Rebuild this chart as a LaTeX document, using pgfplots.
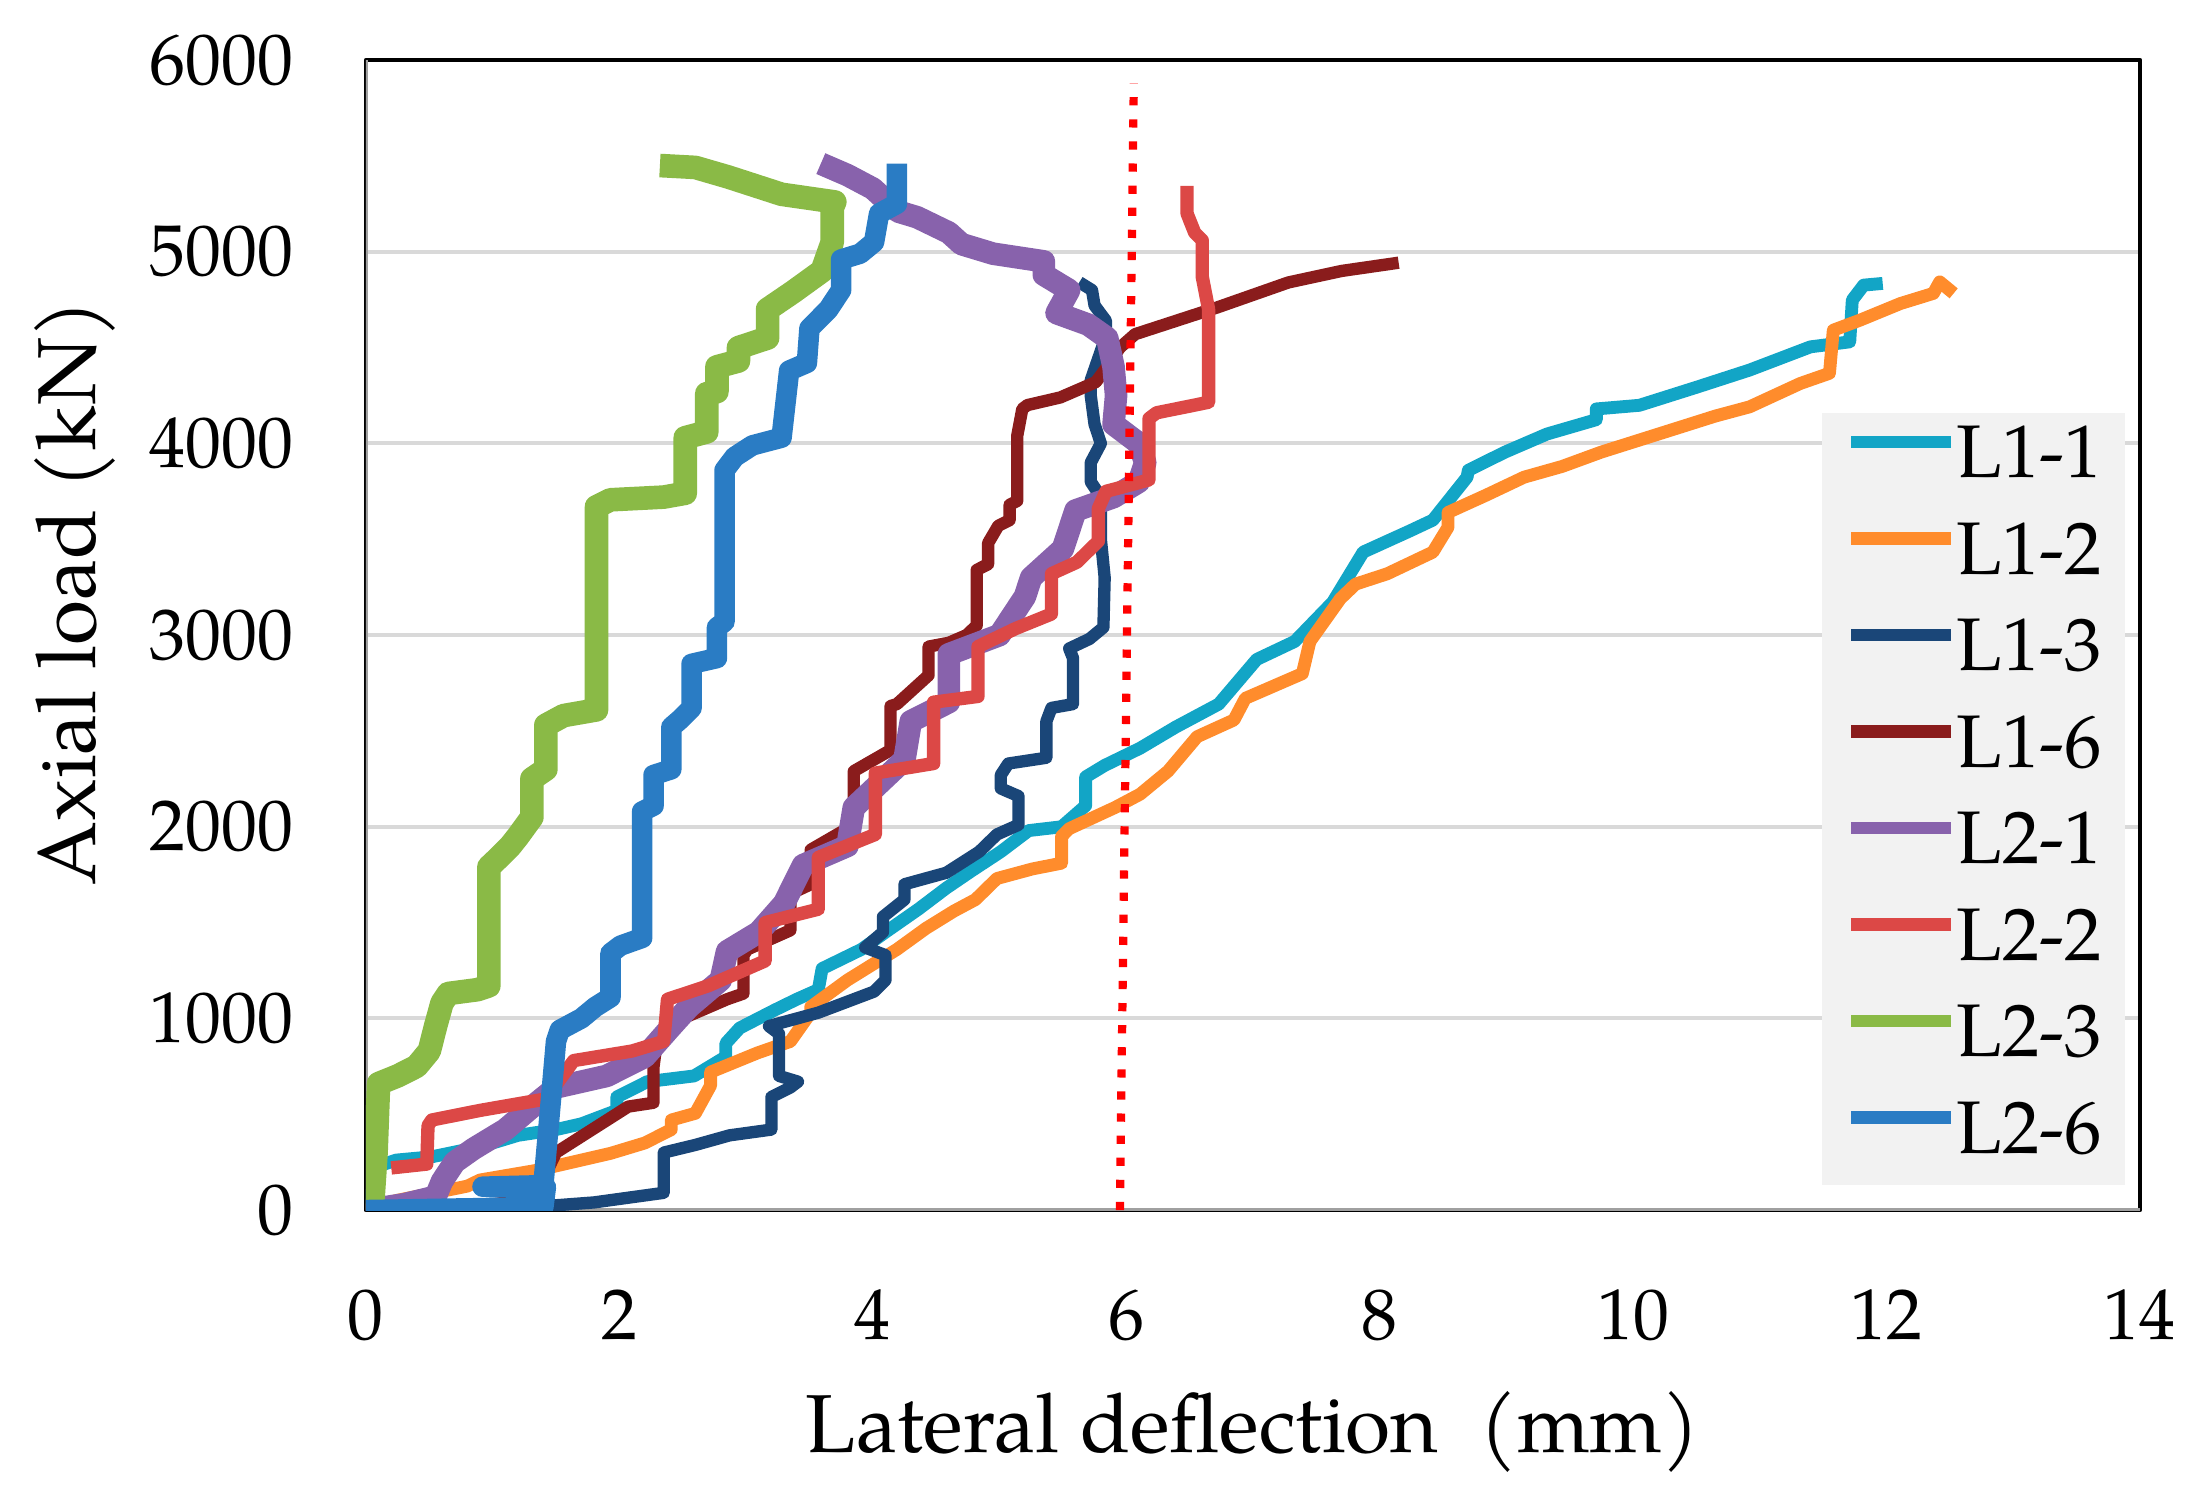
\documentclass[border=0pt]{standalone}
\usepackage{fontspec}
\setmainfont{TeX Gyre Pagella}
\usepackage{pgfplots}
\pgfplotsset{compat=1.18}
\definecolor{cLoneone}{RGB}{18,165,198}
\definecolor{cLonetwo}{RGB}{255,140,44}
\definecolor{cLonethree}{RGB}{26,70,120}
\definecolor{cLonesix}{RGB}{138,28,28}
\definecolor{cLtwoone}{RGB}{136,98,172}
\definecolor{cLtwotwo}{RGB}{220,72,70}
\definecolor{cLtwothree}{RGB}{138,186,70}
\definecolor{cLtwosix}{RGB}{42,124,196}
\definecolor{gridgray}{RGB}{217,217,217}
\definecolor{legendgray}{RGB}{242,242,242}
\definecolor{axisgray}{RGB}{160,160,160}
\begin{document}
\begin{tikzpicture}
\path[use as bounding box] (-2.503,-1.949) rectangle (12.497,8.277);
\begin{axis}[
  at={(0,0)}, anchor=south west,
  scale only axis, width=12.134cm, height=7.866cm,
  xmin=0, xmax=14, ymin=0, ymax=6000,
  xtick={0,2,...,14}, ytick={0,1000,...,6000},
  major tick length=0pt,
  ymajorgrids, grid style={color=gridgray, line width=0.8pt},
  axis line style={black, line width=0.9pt},
  /pgf/number format/assume math mode=true,
  /pgf/number format/1000 sep={},
  scaled y ticks=false,
  tick label style={font=\fontsize{14}{16}\selectfont},
  xticklabel style={inner sep=0pt, anchor=north, yshift=-5.4mm},
  yticklabel style={inner sep=0pt, anchor=east, xshift=-4.9mm},
  xlabel={Lateral deflection~~(mm)},
  ylabel={Axial load (kN)},
  label style={font=\fontsize{16}{19}\selectfont},
  xlabel style={at={(axis description cs:0.5,0)}, anchor=base, yshift=-16.6mm, inner sep=0pt},
  ylabel style={at={(axis description cs:-0.1525,0.537)}, anchor=base, inner sep=0pt},
  legend style={at={(axis cs:11.48,4165)}, anchor=north west, fill=legendgray, draw=none,
    inner xsep=1.6mm, inner ysep=0pt, row sep=0pt,
    font=\fontsize{14.5}{17}\selectfont,
    nodes={inner sep=0pt, text height=4.45mm, text depth=2.15mm}},
  legend cell align=left,
  legend image code/.code={\draw[#1, line width=2.4pt] (0mm,1.3mm) -- (6.8mm,1.3mm);},
  line join=round,
]
\draw[color=axisgray, line width=0.9pt] (rel axis cs:0,1) -- (rel axis cs:0,0) -- (rel axis cs:1,0);

% L1-1
\addplot[color=cLoneone, line width=2.5pt, mark=none] coordinates {
(0,0) (0.05,100) (0.1,230) (0.24,261) (0.52,278) (0.9,330) (1.2,390) (1.5,420) (1.7,450) (1.98,520) (1.98,590) (2.22,670) (2.59,700) (2.84,800) (2.84,870) (2.95,950) (3.23,1045) (3.4,1100) (3.57,1150) (3.6,1260) (3.91,1360) (4.1,1450) (4.36,1570) (4.58,1680) (4.78,1770) (5.01,1870) (5.23,1980) (5.49,2000) (5.68,2110) (5.68,2260) (5.83,2320) (6.11,2410) (6.39,2520) (6.73,2640) (7.03,2873) (7.33,2967) (7.63,3172) (7.87,3433) (8.24,3544) (8.42,3600) (8.69,3824) (8.7,3860) (8.99,3955) (9.32,4049) (9.71,4124) (9.71,4180) (10.05,4199) (10.5,4293) (10.92,4383) (11.40,4504) (11.71,4530) (11.73,4748) (11.82,4826) (11.97,4835)
};
\addlegendentry{L1-1}
% L1-2
\addplot[color=cLonetwo, line width=2.5pt, mark=none] coordinates {
(0,0) (0.24,50) (0.8,125) (0.9,157) (1.36,209) (1.93,296) (2.2,350) (2.41,420) (2.41,470) (2.6,505) (2.72,650) (2.72,720) (3.09,820) (3.35,880) (3.51,1030) (3.51,1060) (3.8,1200) (4.19,1360) (4.42,1470) (4.64,1560) (4.81,1620) (4.98,1730) (5.26,1780) (5.49,1810) (5.49,1950) (5.55,1990) (5.91,2100) (6.11,2170) (6.33,2290) (6.56,2470) (6.85,2557) (6.94,2670) (7.39,2799) (7.45,2967) (7.69,3190) (7.81,3266) (8.06,3320) (8.42,3433) (8.54,3563) (8.54,3640) (8.84,3730) (9.14,3824) (9.44,3880) (9.75,3955) (10.2,4049) (10.65,4143) (10.92,4191) (11.32,4313) (11.55,4366) (11.58,4591) (11.79,4643) (12.11,4730) (12.37,4783) (12.42,4843) (12.53,4783)
};
\addlegendentry{L1-2}
% L1-3
\addplot[color=cLonethree, line width=2.4pt, mark=none] coordinates {
(0,0) (0.8,0) (1.4,20) (1.8,40) (2.35,90) (2.35,300) (2.6,340) (2.87,390) (3.2,420) (3.2,590) (3.35,640) (3.41,670) (3.26,700) (3.26,920) (3.18,960) (3.57,1030) (4.01,1140) (4.1,1200) (4.1,1330) (3.94,1370) (4.08,1450) (4.08,1530) (4.25,1620) (4.25,1700) (4.58,1760) (4.84,1870) (4.98,1960) (5.15,2010) (5.15,2160) (5.01,2200) (5.01,2270) (5.07,2330) (5.37,2360) (5.37,2550) (5.41,2620) (5.58,2640) (5.58,2880) (5.55,2930) (5.71,2980) (5.82,3040) (5.83,3300) (5.8,3500) (5.8,3720) (5.72,3800) (5.72,3900) (5.8,4000) (5.75,4100) (5.72,4250) (5.72,4330) (5.84,4560) (5.84,4640) (5.75,4720) (5.73,4800) (5.63,4841)
};
\addlegendentry{L1-3}
% L1-6
\addplot[color=cLonesix, line width=2.4pt, mark=none] coordinates {
(0,0) (0.5,10) (1.0,30) (1.42,70) (1.42,190) (1.5,300) (2.07,540) (2.27,560) (2.27,750) (2.3,900) (2.5,1000) (2.85,1100) (2.98,1130) (2.98,1330) (3.01,1360) (3.35,1460) (3.35,1650) (3.51,1700) (3.51,1880) (3.85,2010) (3.85,2290) (4.14,2400) (4.14,2630) (4.19,2640) (4.44,2790) (4.44,2940) (4.6,2960) (4.74,3000) (4.82,3050) (4.82,3340) (4.91,3370) (4.91,3480) (4.99,3570) (5.08,3600) (5.08,3680) (5.14,3700) (5.14,4040) (5.18,4180) (5.22,4200) (5.48,4240) (5.76,4320) (5.85,4400) (5.95,4500) (6.07,4570) (6.72,4710) (7.28,4840) (7.7,4900) (8.15,4943)
};
\addlegendentry{L1-6}
% L2-1
\addplot[color=cLtwoone, line width=4.4pt, mark=none] coordinates {
(0,0) (0.3,30) (0.55,70) (0.6,150) (0.7,250) (0.85,320) (1.1,420) (1.35,560) (1.5,640) (1.9,700) (2.2,800) (2.4,950) (2.55,1060) (2.8,1200) (2.85,1350) (3.1,1450) (3.3,1600) (3.45,1800) (3.8,1900) (3.85,2100) (4.25,2350) (4.3,2550) (4.6,2650) (4.6,2900) (5.0,3000) (5.2,3200) (5.25,3300) (5.5,3450) (5.6,3650) (5.9,3720) (6.1,3800) (6.15,3900) (6.1,4000) (5.9,4100) (5.92,4250) (5.9,4400) (5.85,4550) (5.7,4620) (5.45,4680) (5.55,4800) (5.35,4880) (5.35,4950) (4.95,4990) (4.7,5040) (4.6,5100) (4.35,5180) (4.2,5210) (4.0,5330) (3.8,5400) (3.59,5460)
};
\addlegendentry{L2-1}
% L2-2
\addplot[color=cLtwotwo, line width=2.6pt, mark=none] coordinates {
(0.2,220) (0.48,240) (0.49,440) (0.52,470) (0.9,520) (1.42,580) (1.55,700) (1.64,780) (2.1,830) (2.35,880) (2.38,1100) (2.7,1170) (3.15,1300) (3.15,1500) (3.57,1570) (3.57,1840) (4.02,1960) (4.02,2280) (4.48,2330) (4.48,2650) (4.83,2680) (4.83,2940) (5.13,3035) (5.41,3110) (5.41,3320) (5.61,3380) (5.78,3490) (5.78,3660) (5.84,3750) (6.07,3790) (6.18,3810) (6.18,4130) (6.24,4160) (6.54,4200) (6.65,4215) (6.65,4700) (6.6,4870) (6.6,5060) (6.54,5100) (6.48,5200) (6.48,5344)
};
\addlegendentry{L2-2}
% L2-3
\addplot[color=cLtwothree, line width=4.6pt, mark=none] coordinates {
(0.05,0) (0.08,300) (0.1,660) (0.25,700) (0.4,750) (0.5,830) (0.55,960) (0.6,1080) (0.65,1130) (0.88,1150) (0.97,1170) (0.97,1790) (1.05,1840) (1.14,1900) (1.2,1950) (1.31,2050) (1.31,2250) (1.42,2300) (1.42,2530) (1.56,2580) (1.82,2610) (1.82,3670) (1.93,3706) (2.35,3720) (2.52,3740) (2.52,4030) (2.69,4060) (2.69,4260) (2.77,4270) (2.77,4400) (2.94,4430) (2.94,4500) (3.17,4550) (3.17,4700) (3.37,4790) (3.6,4900) (3.68,5050) (3.68,5230) (3.70,5260) (3.28,5300) (2.86,5390) (2.6,5440) (2.32,5450)
};
\addlegendentry{L2-3}
% L2-6
\addplot[color=cLtwosix, line width=4.0pt, mark=none] coordinates {
(0,0) (0.7,8) (1.4,15) (1.42,120) (0.92,122) (1.4,130) (1.45,500) (1.5,880) (1.53,940) (1.7,1000) (1.81,1060) (1.93,1110) (1.93,1340) (2.01,1380) (2.18,1420) (2.18,2080) (2.27,2110) (2.27,2270) (2.41,2300) (2.41,2520) (2.48,2560) (2.57,2620) (2.57,2850) (2.77,2880) (2.77,3040) (2.83,3070) (2.83,3860) (2.91,3930) (3.05,3990) (3.28,4030) (3.34,4380) (3.48,4420) (3.5,4600) (3.65,4700) (3.75,4800) (3.75,4960) (3.9,4990) (4.01,5050) (4.05,5200) (4.19,5250) (4.19,5460)
};
\addlegendentry{L2-6}
% limit line
\addplot[forget plot, color=red, line width=1.6pt, dash pattern=on 1.6pt off 2.7pt, mark=none] coordinates {(5.95,0) (6.06,5880)};
\end{axis}
\end{tikzpicture}
\end{document}
